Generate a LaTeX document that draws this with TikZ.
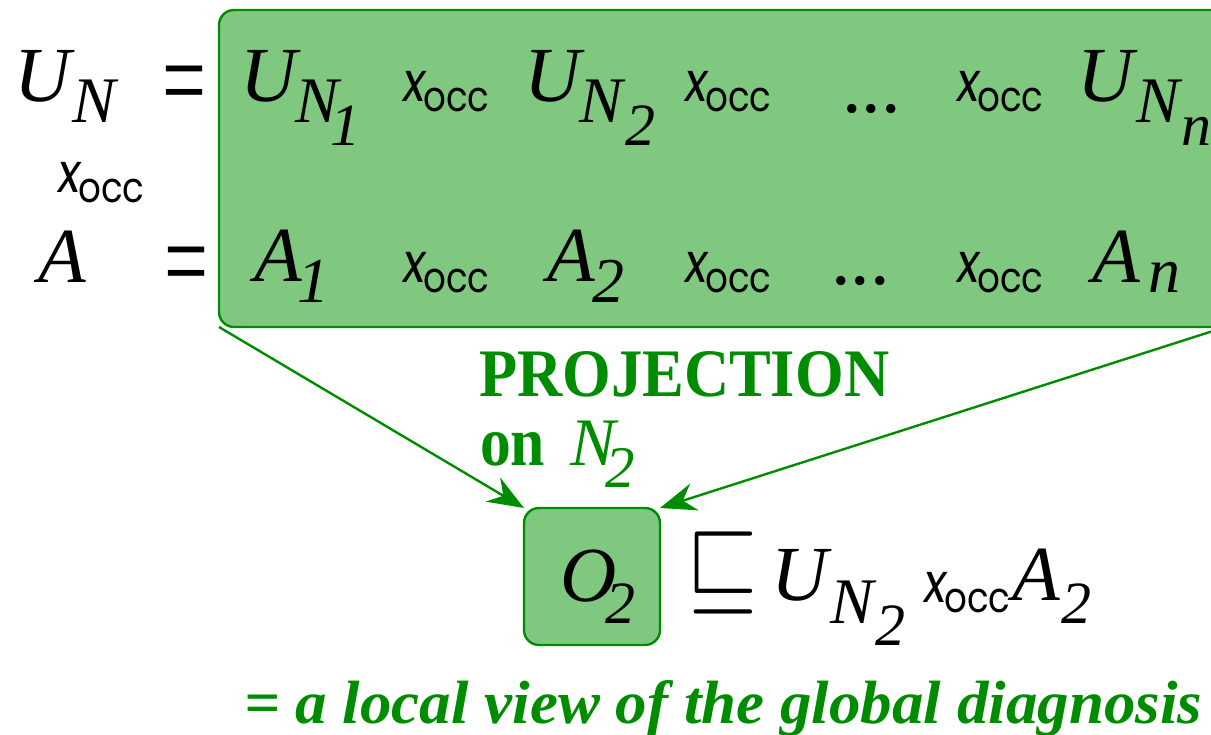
\documentclass[tikz,border=0pt]{standalone}
\usepackage{fontspec}
\setmainfont{Liberation Serif}
\newfontfamily\occfont{Poppins}
\newfontfamily\occslant{Poppins}[FakeSlant=0.15]
\usetikzlibrary{arrows.meta}
\definecolor{boxfill}{RGB}{128,200,128}
\definecolor{boxline}{RGB}{0,140,0}
\definecolor{txtgreen}{RGB}{0,140,0}
\newcommand\fs[1]{\fontsize{#1}{#1}\selectfont}
\newcommand\xocc{\scalebox{0.85}[1]{{\occslant\fs{55}x}\raisebox{-10pt}{\occfont\fs{42}occ}}}
\newcommand\bigeq{\scalebox{1}[1.5]{\fs{78}=}}
\begin{document}
\begin{tikzpicture}[x=1pt,y=-1pt,
  txt/.style={inner sep=0pt,outer sep=0pt,anchor=base west},
  big/.style={txt,font={\fs{78}\itshape}},
  sub/.style={txt,font={\fs{65}\itshape}},
  subsub/.style={txt,font={\fs{60}\itshape}},
  subtwo/.style={txt,font={\fs{64}\itshape}},
  occ/.style={txt},
  dots/.style={txt,font={\fs{78}}},
  eqn/.style={inner sep=0pt,outer sep=0pt,anchor=center},
  gbox/.style={draw=boxline,fill=boxfill,line width=2.4pt,rounded corners=15pt,inner sep=0pt,outer sep=0pt},
  arr/.style={draw=boxline,line width=2.4pt,-{Stealth[length=36pt,width=28pt,inset=12pt]}},
  glab/.style={txt,text=txtgreen}]
\useasboundingbox (0,0) rectangle (1211,735);
\clip (0,0) rectangle (1211,735);
% main box
\node[gbox,minimum width=1021pt,minimum height=317pt] (bigbox) at (729.5,168.5) {};
% left column
\node[big] (uL) at (14,102) {U};
\node[sub] (nL) at (72,123) {N};
\node[txt] (eq1) at (162,120) {\bigeq};
\node[occ] (xoL) at (56,193) {\xocc};
\node[big] (aL) at (38,283) {A};
\node[txt] (eq2) at (164,301) {\bigeq};
% row 1
\node[big] (u1) at (240,102) {U};
\node[sub] (n1) at (295,123) {N};
\node[subsub] (s1) at (330,146) {1};
\node[occ] (x11) at (401,102) {\xocc};
\node[big] (u2) at (524,102) {U};
\node[sub] (n2) at (579,123) {N};
\node[subsub] (s2) at (625,146) {2};
\node[occ] (x12) at (683,102) {\xocc};
\node[dots] (d1) at (842,113) {...};
\node[occ] (x13) at (955,102) {\xocc};
\node[big] (u3) at (1077,102) {U};
\node[sub] (n3) at (1136,123) {N};
\node[subsub] (s3) at (1181,146) {n};
% row 2
\node[big] (a1) at (254,282) {A};
\node[subtwo] (t1) at (297,303) {1};
\node[occ] (x21) at (401,283) {\xocc};
\node[big] (a2) at (547,282) {A};
\node[subtwo] (t2) at (592,303) {2};
\node[occ] (x22) at (683,283) {\xocc};
\node[dots] (d2) at (831,285) {...};
\node[occ] (x23) at (955,283) {\xocc};
\node[big] (a3) at (1092,283) {A};
\node[subtwo] (t3) at (1148,293) {n};
% projection label
\node[glab] (proj) at (479,397) {\resizebox{410pt}{45pt}{\bfseries PROJECTION}};
\node[glab] (on) at (480,465) {\resizebox{65pt}{33pt}{\bfseries on}};
\node[glab,font={\fs{68}\itshape}] (pn) at (570,465) {N};
\node[glab,font={\fs{59}\itshape}] (p2) at (605,487) {2};
% local box
\node[gbox,minimum width=136pt,minimum height=137pt] (o2box) at (592,576.5) {};
\node[big] (o) at (560,601) {O};
\node[subsub] (o2) at (605,623) {2};
\node[eqn] (sq) at (723,573) {\resizebox*{72pt}{82pt}{$\sqsubseteq$}};
\node[big] (u4) at (771,600) {U};
\node[sub] (n4) at (830,623) {N};
\node[subsub] (s4) at (875,645) {2};
\node[occ] (x4) at (922,602) {\xocc};
\node[big] (a4) at (1012,600) {A};
\node[subsub] (s5) at (1061,623) {2};
% bottom text
\node[glab] (bot) at (244,723) {\resizebox{958pt}{43pt}{\bfseries\itshape = a local view of the global diagnosis}};
% arrows
\coordinate (rs) at (1213,331);
\draw[arr] (bigbox.south west) -- (o2box.north west);
\draw[arr] (rs) -- (o2box.north east);
\end{tikzpicture}
\end{document}
